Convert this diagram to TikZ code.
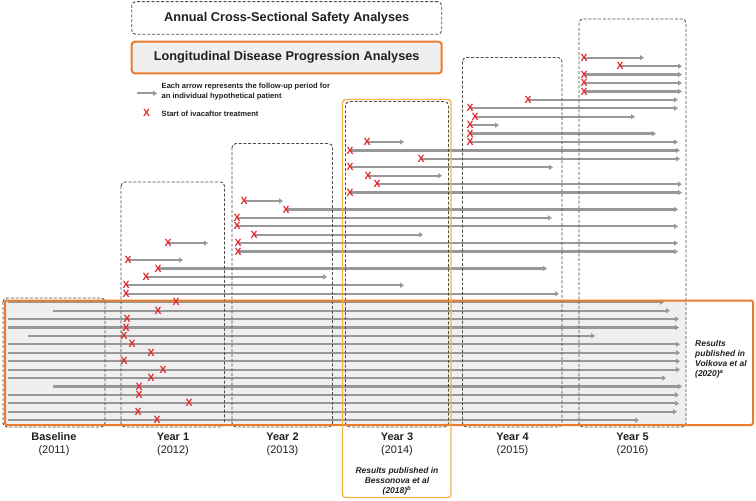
\documentclass[tikz,border=0pt]{standalone}
\usepackage{fontspec}
\setmainfont{Liberation Sans}
\usetikzlibrary{arrows.meta}

\definecolor{fugray}{HTML}{989898}
\definecolor{boxgray}{HTML}{4D4D4D}
\definecolor{ltgray}{HTML}{EFEFEF}
\definecolor{dkorange}{HTML}{E87D2E}
\definecolor{ltorange}{HTML}{F4B24A}
\definecolor{xred}{HTML}{E1272D}
\definecolor{inkgray}{HTML}{231F20}

\tikzset{
  period/.style={fugray, line width=2.2bp, -{Triangle[length=4bp,width=5bp]}},
  ivamark/.style={text=xred, inner sep=0pt, font=\fontsize{10.5}{10.5}\selectfont\bfseries},
  yearbox/.style={draw=boxgray, line width=0.9bp, dash pattern=on 3bp off 1.8bp, rounded corners=4bp},
  yearlbl/.style={align=center, text=inkgray, font=\fontsize{11}{13.3}\selectfont},
  legtext/.style={anchor=west, align=left, inner sep=0pt, text=inkgray, font=\fontsize{7.6}{10}\selectfont\bfseries},
  pubnote/.style={inner sep=0pt, text=inkgray, font=\fontsize{8.5}{10}\selectfont\bfseries\itshape},
}

% row / from / to / start of treatment
\def\followup{0/584/644/584, 1/620/682/620, 2/584/682/584, 3/584/682/584,
  4/584/682/584, 5/528/678/528, 6/470/678/470, 7/475/635/475, 8/470/499/470,
  9/470/656/470, 10/470/678/470, 10/367/404/367, 11/350/680/350,
  12/421/680/421, 13/350/553/350, 14/368/442/368, 15/377/682/377,
  16/350/682/350, 17/244/283/244, 18/286/678/286, 19/237/552/237,
  20/237/678/237, 21/254/423/254, 22/238/678/238, 22/168/208/168,
  23/238/678/238, 24/128/183/128, 25/158/547/158, 26/146/327/146,
  27/126/404/126, 28/126/559/126, 29/8/664/176, 30/53/670/158,
  31/8/679/127, 32/8/679/126, 33/28/595/124, 34/8/680/132, 35/8/680/151,
  36/8/680/124, 37/8/680/163, 38/8/666/151, 39/53/682/139, 40/8/679/139,
  41/8/679/189, 42/8/677/138, 43/8/639/157}

\begin{document}
\begin{tikzpicture}[x=1bp, y=-1bp, line join=round]
  \useasboundingbox (0,0) rectangle (756,501);
  % shaded band of the longitudinal cohort
  \fill[ltgray] (5,300.5) rectangle (686,425);
  % follow-up periods
  \foreach \r/\a/\b/\m [count=\n] in \followup {
    \pgfmathsetmacro\yy{57.7+8.43*\r}
    \coordinate (s\n) at (\a,\yy);
    \coordinate (e\n) at (\b,\yy);
    \draw[period] (s\n) -- (e\n);
  }
  % titles
  \node[yearbox, minimum width=310bp, minimum height=32.6bp, text=inkgray,
    font=\fontsize{12.8}{14}\selectfont\bfseries] (safety) at (286.7,18) {Annual Cross-Sectional Safety Analyses};
  \node[draw=dkorange, fill=ltgray, line width=2bp, rounded corners=3bp,
    minimum width=310bp, minimum height=31.6bp, text=inkgray,
    font=\fontsize{12.8}{14}\selectfont\bfseries] (longit) at (286.7,57.5) {Longitudinal Disease Progression Analyses};
  % legend
  \coordinate (leg1) at (137,93.3);
  \coordinate (leg2) at (157,93.3);
  \draw[period] (leg1) -- (leg2);
  \node[legtext] (legarrow) at (161.5,92) {Each arrow represents the follow-up period for\\an individual hypothetical patient};
  \node[ivamark] (legx) at (146.7,113.3) {X};
  \node[legtext] (legmark) at (161.5,113.3) {Start of ivacaftor treatment};
  % yearly boxes
  \draw[yearbox] (3,298) rectangle (105,427);
  \draw[yearbox] (121,182) rectangle (224.5,427);
  \draw[yearbox] (232,143.5) rectangle (332.5,427);
  \draw[yearbox] (345.5,101.5) rectangle (448.5,427);
  \draw[yearbox] (462.5,57.5) rectangle (562,427);
  \draw[yearbox] (579,19) rectangle (686,427);
  \draw[dkorange, line width=2bp, rounded corners=2bp] (5,300.5) rectangle (753,425);
  \draw[ltorange, line width=1.3bp, rounded corners=3bp] (342.5,99.5) rectangle (451,497.5);
  % treatment starts
  \foreach \r/\a/\b/\m [count=\n] in \followup {
    \pgfmathsetmacro\yy{57.7+8.43*\r}
    \node[ivamark] (m\n) at (\m,\yy) {X};
  }
  % year labels
  \node[yearlbl] (base) at (54,444) {\textbf{Baseline}\\(2011)};
  \node[yearlbl] (yr1) at (173,444) {\textbf{Year 1}\\(2012)};
  \node[yearlbl] (yr2) at (282.5,444) {\textbf{Year 2}\\(2013)};
  \node[yearlbl] (yr3) at (397,444) {\textbf{Year 3}\\(2014)};
  \node[yearlbl] (yr4) at (512.5,444) {\textbf{Year 4}\\(2015)};
  \node[yearlbl] (yr5) at (632.5,444) {\textbf{Year 5}\\(2016)};
  % publications
  \node[pubnote, align=center] (bess) at (397,481) {Results published in\\Bessonova et al\\(2018)\textsuperscript{b}};
  \node[pubnote, align=left, anchor=west] (volk) at (695,359) {Results\\published in\\Volkova et al\\(2020)\textsuperscript{a}};
\end{tikzpicture}
\end{document}
